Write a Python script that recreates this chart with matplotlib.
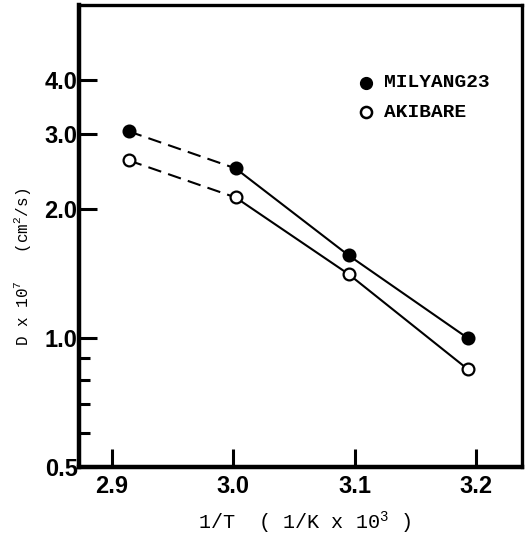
import matplotlib
matplotlib.use("Agg")
import matplotlib.pyplot as plt
from matplotlib.ticker import FixedLocator, NullFormatter

plt.rcParams['mathtext.fontset'] = 'custom'
plt.rcParams['mathtext.rm'] = 'Liberation Mono'
plt.rcParams['mathtext.it'] = 'Liberation Mono'

# 1/T (1/K x 10^3) and D x 10^7 (cm^2/s)
inv_t = [2.914, 3.002, 3.095, 3.193]
milyang23 = [3.04, 2.49, 1.56, 1.00]
akibare = [2.60, 2.13, 1.41, 0.846]

x_ticks = [2.9, 3.0, 3.1, 3.2]
x_labels = ['2.9', '3.0', '3.1', '3.2']
y_ticks = [0.5, 1.0, 2.0, 3.0, 4.0]
y_labels = ['0.5', '1.0', '2.0', '3.0', '4.0']
y_minor = [0.6, 0.7, 0.8, 0.9]

fig = plt.figure(figsize=(5.26, 5.48), dpi=100)
ax = fig.add_axes([0.150, 0.148, 0.843, 0.843])
ax.set_yscale('log')
ax.set_xlim(2.873, 3.238)
ax.set_ylim(0.5, 6.0)

lw = 1.5
for vals, face in [(milyang23, 'black'), (akibare, 'white')]:
    # dashed segment between the first two points, solid for the rest
    ax.plot(inv_t[:2], vals[:2], color='black', lw=lw, ls=(0, (6.5, 3.5)))
    ax.plot(inv_t[1:], vals[1:], color='black', lw=lw)
    ax.plot(inv_t, vals, ls='none', marker='o', ms=8.5, mfc=face,
            mec='black', mew=1.6, zorder=3)

# legend drawn as markers + text
ax.plot([3.109], [3.95], ls='none', marker='o', ms=8.5, mfc='black', mec='black')
ax.plot([3.109], [3.37], ls='none', marker='o', ms=8, mfc='white', mec='black', mew=1.8)
ax.text(3.124, 3.95, 'MILYANG23', fontsize=14, family='Liberation Mono',
        fontweight='bold', va='center', ha='left')
ax.text(3.124, 3.37, 'AKIBARE', fontsize=14, family='Liberation Mono',
        fontweight='bold', va='center', ha='left')

ax.xaxis.set_major_locator(FixedLocator(x_ticks))
ax.set_xticklabels(x_labels)
ax.yaxis.set_major_locator(FixedLocator(y_ticks))
ax.yaxis.set_minor_locator(FixedLocator(y_minor))
ax.yaxis.set_minor_formatter(NullFormatter())
ax.set_yticklabels(y_labels)

ax.tick_params(axis='both', which='major', direction='in', length=13, width=2.2,
               labelsize=17, top=False, right=False)
ax.tick_params(axis='y', which='minor', direction='in', length=8, width=2.2)
ax.tick_params(axis='x', which='major', pad=6)
ax.tick_params(axis='y', which='major', pad=1)
for lab in ax.get_xticklabels() + ax.get_yticklabels():
    lab.set_family('Liberation Sans')
    lab.set_fontweight('bold')

for side in ['left', 'bottom']:
    ax.spines[side].set_linewidth(3.2)
for side in ['top', 'right']:
    ax.spines[side].set_linewidth(2.4)

fig.text(0.58, 0.047, r'1/T  ( 1/K x 10$^{3}$ )', fontsize=14.5,
         family='Liberation Mono', ha='center', va='center')
fig.text(0.042, 0.513, r'D x 10$^{7}$   (cm$^{2}$/s)', fontsize=11.5,
         family='Liberation Mono', ha='center', va='center', rotation=90)

fig.savefig('out.png', dpi=100)
